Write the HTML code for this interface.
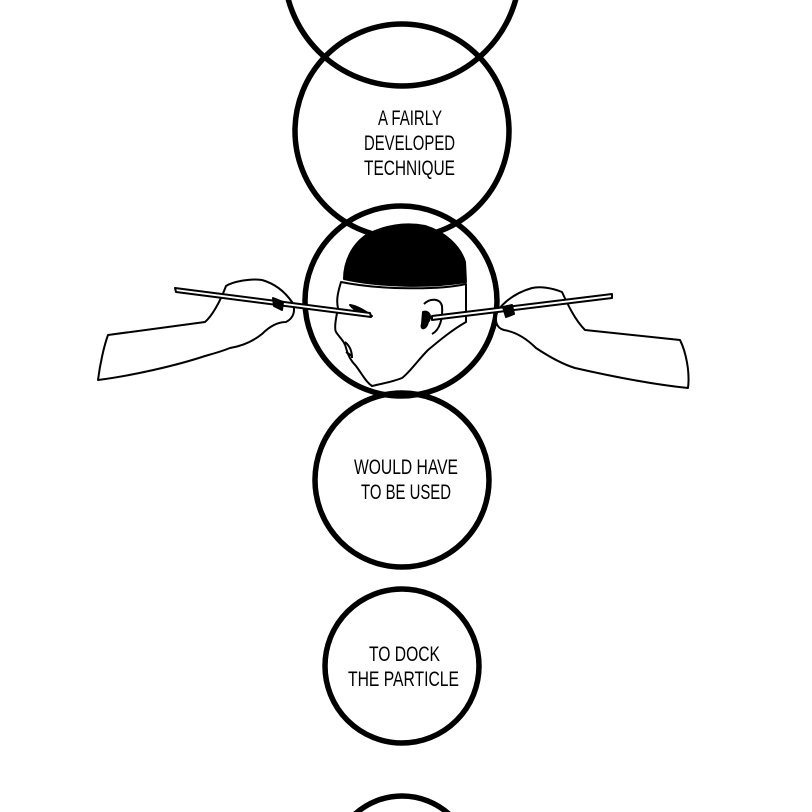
<!DOCTYPE html>
<html><head><meta charset="utf-8"><style>
html,body{margin:0;padding:0;background:#fff;width:812px;height:812px;overflow:hidden;}
svg{display:block}
text{font-family:"Liberation Sans",sans-serif;font-size:21px;fill:#000;}
</style></head><body>
<svg width="812" height="812" viewBox="0 0 812 812" xmlns="http://www.w3.org/2000/svg">
<g fill="none" stroke="#000" stroke-width="5.5">
<circle cx="402" cy="-32" r="118"/>
<circle cx="402" cy="131" r="107"/>
<ellipse cx="401" cy="301" rx="96" ry="95"/>
<circle cx="402" cy="480" r="87"/>
<circle cx="402" cy="666" r="77"/>
<circle cx="402" cy="866" r="70"/>
</g>
<g stroke="#000" stroke-width="2" stroke-linejoin="round">
<path d="M341,282 C338,292 336,300 338,308 C336,318 334,328 336,332 C340,338 345,342 346,348 C348,356 352,362 356,366 C362,374 366,382 372,386 C380,384 392,382 402,378 C410,372 418,360 428,350 C440,340 452,330 466,322 L466,284 C440,290 380,290 341,282 Z" fill="#fff"/>
<path d="M344,279 C344,262 352,244 368,234 C385,226 405,222 425,226 C445,232 460,246 465,262 L466,282 C430,288 380,287 344,279 Z" fill="#000"/>
<path d="M424,304 C430,298 440,298 442,306 C443,318 440,330 432,334" fill="none"/>
<path d="M350,305 C356,306 364,310 372,316 C364,316 356,312 350,305 Z" fill="#000"/>
<path d="M345,342 C350,346 352,352 352,358 M346,352 L352,356" fill="none"/>
<path d="M423,312 C430,310 432,318 428,322 C426,330 420,330 422,324 Z" fill="#000"/>
</g>
<g stroke="#000" stroke-width="2" stroke-linejoin="round" fill="#fff">
<path d="M98,380 C100,364 104,346 108,335 L205,322 C212,316 220,302 226,286 C232,282 250,278 262,280 C276,284 285,292 292,302 C296,310 294,318 286,322 C276,322 268,328 262,334 C252,342 242,346 230,348 C220,352 212,354 205,356 C175,366 130,376 98,380 Z"/>
<path d="M175,288 L370,313 L371,317 L176,292 Z" fill="#fff"/>
<path d="M273,298 L283,302 L282,310 L274,306 Z" fill="#000"/>
</g>
<g stroke="#000" stroke-width="2" stroke-linejoin="round" fill="#fff">
<path d="M688,388 C690,372 686,352 680,340 L585,330 C575,320 568,305 562,292 C552,288 540,286 532,288 C518,292 506,300 498,310 C494,320 496,328 504,330 C516,332 526,338 536,348 C548,356 562,364 575,368 C610,376 650,384 688,388 Z"/>
<path d="M612,294 L432,316 L432,320 L612,298 Z" fill="#fff"/>
<path d="M503,307 L512,305 L514,314 L506,317 Z" fill="#000"/>
</g>
<g text-anchor="start">
<text x="378" y="125" textLength="64" lengthAdjust="spacingAndGlyphs">A FAIRLY</text>
<text x="364" y="150" textLength="91" lengthAdjust="spacingAndGlyphs">DEVELOPED</text>
<text x="364" y="175" textLength="91" lengthAdjust="spacingAndGlyphs">TECHNIQUE</text>
<text x="354" y="474" textLength="104" lengthAdjust="spacingAndGlyphs">WOULD HAVE</text>
<text x="361" y="499" textLength="90" lengthAdjust="spacingAndGlyphs">TO BE USED</text>
<text x="369" y="661" textLength="71" lengthAdjust="spacingAndGlyphs">TO DOCK</text>
<text x="348" y="686" textLength="111" lengthAdjust="spacingAndGlyphs">THE PARTICLE</text>
</g>
</svg>
</body></html>
